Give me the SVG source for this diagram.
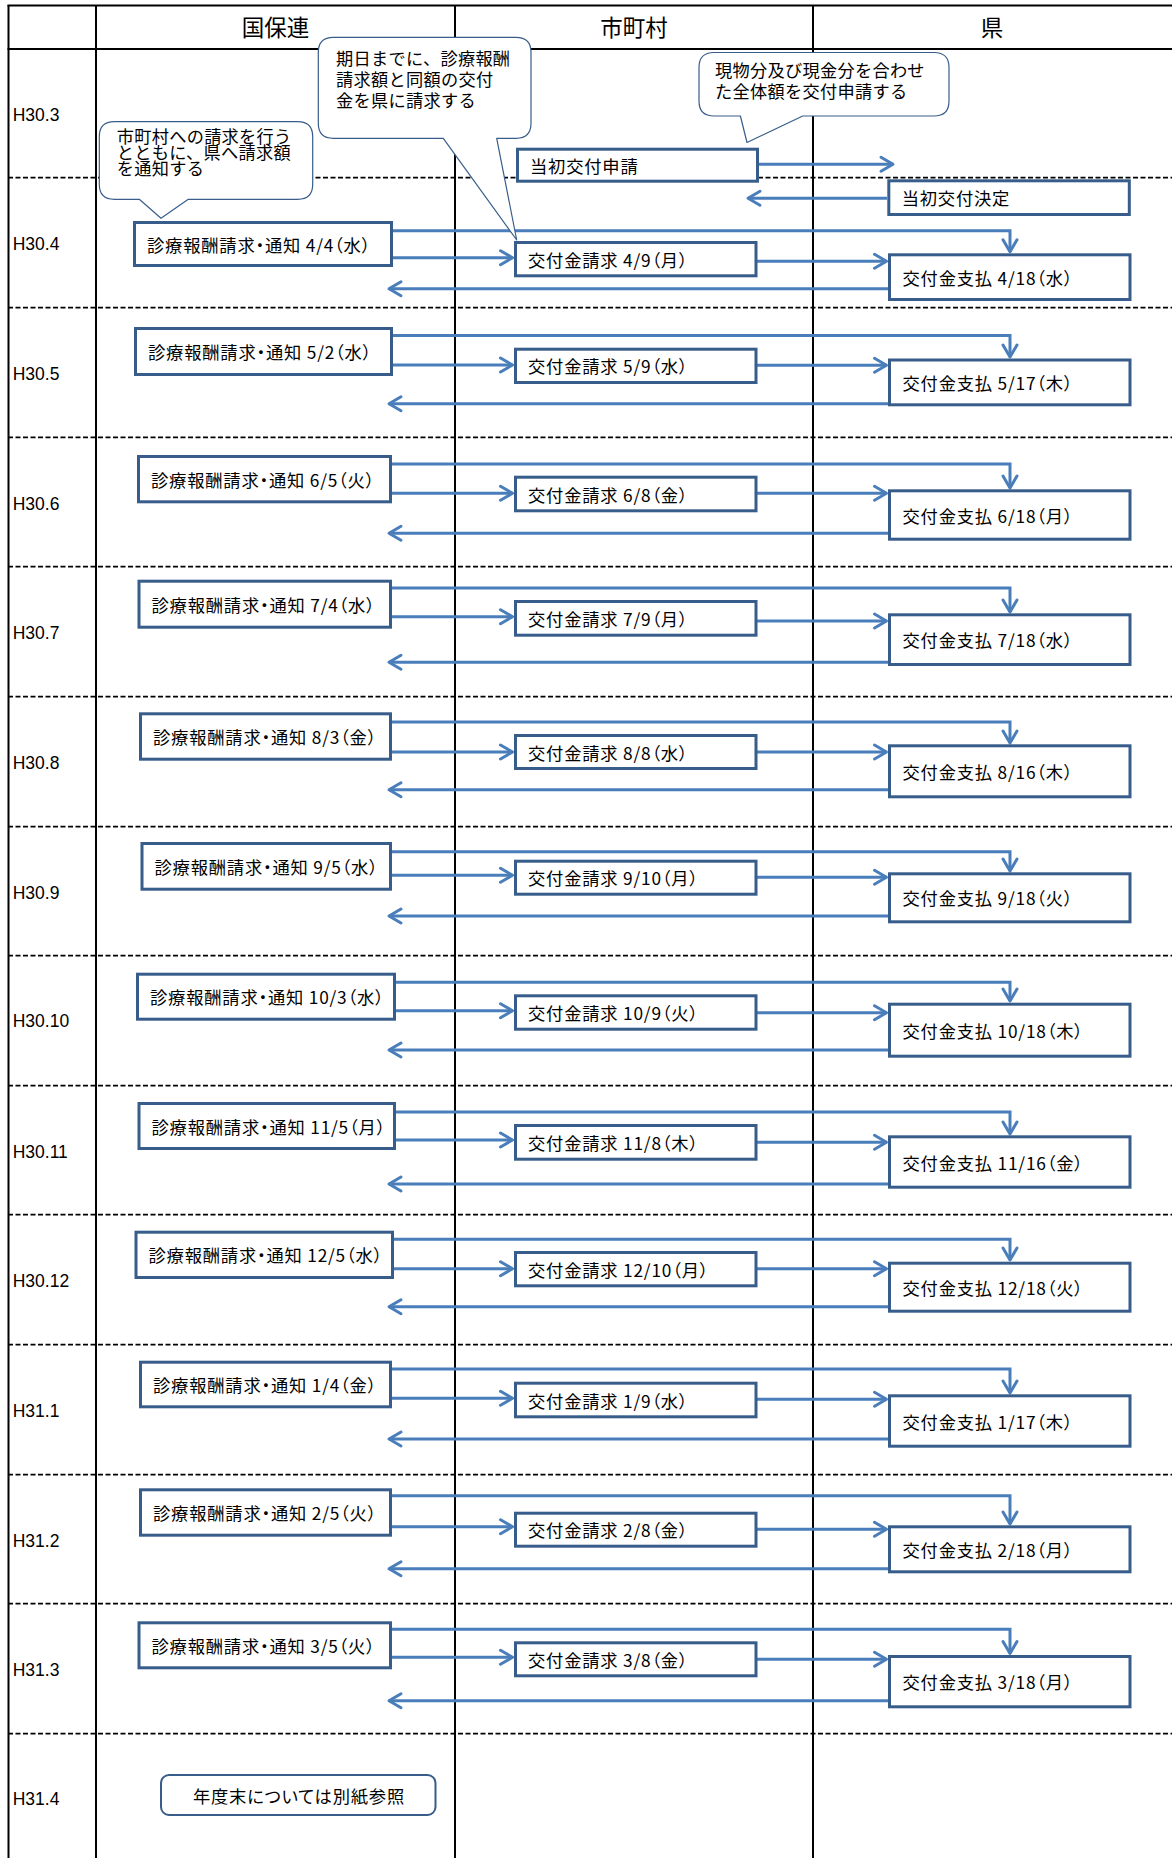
<svg xmlns="http://www.w3.org/2000/svg" width="1172" height="1858" viewBox="0 0 1172 1858">
<style>
.bg{fill:#fff}
.gl{stroke:#000;stroke-width:2;fill:none}
.dl{stroke:#000;stroke-width:1.7;stroke-dasharray:5 2.5;fill:none}
.hd{font-family:"Noto Sans CJK JP","Noto Sans CJK SC",sans-serif;font-size:22.5px;fill:#000;text-anchor:middle;dominant-baseline:central}
.lb{font-family:"Liberation Sans",Arial,sans-serif;font-size:17.5px;fill:#000}
.bx{fill:#fff;stroke:#385D8A;stroke-width:3}
.bt{font-family:"Noto Sans CJK JP","Noto Sans CJK SC",sans-serif;font-size:17.3px;letter-spacing:0.8px;fill:#000;dominant-baseline:central;font-feature-settings:"palt"}
.cl{fill:#fff;stroke:#385D8A;stroke-width:1.2;stroke-linejoin:round}
.ct{font-family:"Noto Sans CJK JP","Noto Sans CJK SC",sans-serif;font-size:17.2px;letter-spacing:0.3px;fill:#000}
.cn{fill:none;stroke:#4A7EBB;stroke-width:3;marker-end:url(#ah)}
.rb{fill:#fff;stroke:#385D8A;stroke-width:2}
</style>
<defs>
<marker id="ah" markerUnits="userSpaceOnUse" markerWidth="30" markerHeight="30" viewBox="-15 -15 30 30" refX="0" refY="0" orient="auto" overflow="visible">
<path d="M-12,-7 L0,0 L-12,7" fill="none" stroke="#4A7EBB" stroke-width="3" stroke-linejoin="round" stroke-linecap="round"/>
</marker>
</defs>
<rect class="bg" x="0" y="0" width="1172" height="1858"/>
<g id="grid">
<line class="gl" x1="7.5" y1="5.5" x2="1172" y2="5.5"/>
<line class="gl" x1="7.5" y1="49" x2="1172" y2="49" stroke-width="2.5"/>
<line class="gl" x1="8.5" y1="5" x2="8.5" y2="1858"/>
<line class="gl" x1="96" y1="5" x2="96" y2="1858"/>
<line class="gl" x1="455" y1="5" x2="455" y2="1858"/>
<line class="gl" x1="813" y1="5" x2="813" y2="1858"/>
<line class="dl" x1="8" y1="177.7" x2="1172" y2="177.7"/>
<line class="dl" x1="8" y1="307.7" x2="1172" y2="307.7"/>
<line class="dl" x1="8" y1="437.3" x2="1172" y2="437.3"/>
<line class="dl" x1="8" y1="566.7" x2="1172" y2="566.7"/>
<line class="dl" x1="8" y1="696.7" x2="1172" y2="696.7"/>
<line class="dl" x1="8" y1="826.7" x2="1172" y2="826.7"/>
<line class="dl" x1="8" y1="955.7" x2="1172" y2="955.7"/>
<line class="dl" x1="8" y1="1085.7" x2="1172" y2="1085.7"/>
<line class="dl" x1="8" y1="1214.7" x2="1172" y2="1214.7"/>
<line class="dl" x1="8" y1="1344.7" x2="1172" y2="1344.7"/>
<line class="dl" x1="8" y1="1474.7" x2="1172" y2="1474.7"/>
<line class="dl" x1="8" y1="1603.7" x2="1172" y2="1603.7"/>
<line class="dl" x1="8" y1="1733.7" x2="1172" y2="1733.7"/>
<text class="hd" x="275.5" y="26">国保連</text>
<text class="hd" x="634" y="26">市町村</text>
<text class="hd" x="992" y="26">県</text>
<text class="lb" x="12.7" y="121.3">H30.3</text>
<text class="lb" x="12.7" y="249.6">H30.4</text>
<text class="lb" x="12.7" y="379.6">H30.5</text>
<text class="lb" x="12.7" y="509.6">H30.6</text>
<text class="lb" x="12.7" y="638.6">H30.7</text>
<text class="lb" x="12.7" y="768.6">H30.8</text>
<text class="lb" x="12.7" y="898.6">H30.9</text>
<text class="lb" x="12.7" y="1027.3">H30.10</text>
<text class="lb" x="12.7" y="1158">H30.11</text>
<text class="lb" x="12.7" y="1287.3">H30.12</text>
<text class="lb" x="12.7" y="1417">H31.1</text>
<text class="lb" x="12.7" y="1547">H31.2</text>
<text class="lb" x="12.7" y="1676.3">H31.3</text>
<text class="lb" x="12.7" y="1804.6">H31.4</text>
</g>
<g id="connectors">
<line class="cn" x1="759" y1="164.3" x2="893" y2="164.3"/>
<line class="cn" x1="887" y1="198.3" x2="748" y2="198.3"/>
<polyline class="cn" points="392,230.7 1010,230.7 1010,251.8"/>
<line class="cn" x1="392" y1="257.7" x2="512.5" y2="257.7"/>
<line class="cn" x1="757" y1="261.3" x2="886.5" y2="261.3"/>
<line class="cn" x1="888" y1="288.8" x2="389" y2="288.8"/>
<polyline class="cn" points="392,335.5 1010,335.5 1010,357"/>
<line class="cn" x1="392" y1="365" x2="512.5" y2="365"/>
<line class="cn" x1="757" y1="365.2" x2="886.5" y2="365.2"/>
<line class="cn" x1="888" y1="403.7" x2="389" y2="403.7"/>
<polyline class="cn" points="391,464 1010,464 1010,488"/>
<line class="cn" x1="391" y1="493.3" x2="512.5" y2="493.3"/>
<line class="cn" x1="757" y1="493.3" x2="886.5" y2="493.3"/>
<line class="cn" x1="888" y1="533.3" x2="389" y2="533.3"/>
<polyline class="cn" points="391,588 1010,588 1010,612"/>
<line class="cn" x1="391" y1="616.7" x2="512.5" y2="616.7"/>
<line class="cn" x1="757" y1="621" x2="886.5" y2="621"/>
<line class="cn" x1="888" y1="662.3" x2="389" y2="662.3"/>
<polyline class="cn" points="391,722 1010,722 1010,743"/>
<line class="cn" x1="391" y1="752" x2="512.5" y2="752"/>
<line class="cn" x1="757" y1="752" x2="886.5" y2="752"/>
<line class="cn" x1="888" y1="789.7" x2="389" y2="789.7"/>
<polyline class="cn" points="391,851.7 1010,851.7 1010,871"/>
<line class="cn" x1="391" y1="875.3" x2="512.5" y2="875.3"/>
<line class="cn" x1="757" y1="877.3" x2="886.5" y2="877.3"/>
<line class="cn" x1="888" y1="916" x2="389" y2="916"/>
<polyline class="cn" points="395,982.3 1010,982.3 1010,1001"/>
<line class="cn" x1="395" y1="1010.7" x2="512.5" y2="1010.7"/>
<line class="cn" x1="757" y1="1012.7" x2="886.5" y2="1012.7"/>
<line class="cn" x1="888" y1="1050" x2="389" y2="1050"/>
<polyline class="cn" points="395,1112 1010,1112 1010,1134"/>
<line class="cn" x1="395" y1="1140" x2="512.5" y2="1140"/>
<line class="cn" x1="757" y1="1142.3" x2="886.5" y2="1142.3"/>
<line class="cn" x1="888" y1="1184" x2="389" y2="1184"/>
<polyline class="cn" points="393,1239.3 1010,1239.3 1010,1260"/>
<line class="cn" x1="393" y1="1268.7" x2="512.5" y2="1268.7"/>
<line class="cn" x1="757" y1="1268.7" x2="886.5" y2="1268.7"/>
<line class="cn" x1="888" y1="1306.7" x2="389" y2="1306.7"/>
<polyline class="cn" points="391,1369 1010,1369 1010,1393"/>
<line class="cn" x1="391" y1="1398.3" x2="512.5" y2="1398.3"/>
<line class="cn" x1="757" y1="1399.3" x2="886.5" y2="1399.3"/>
<line class="cn" x1="888" y1="1439" x2="389" y2="1439"/>
<polyline class="cn" points="391,1495.7 1010,1495.7 1010,1524"/>
<line class="cn" x1="391" y1="1526.7" x2="512.5" y2="1526.7"/>
<line class="cn" x1="757" y1="1529.3" x2="886.5" y2="1529.3"/>
<line class="cn" x1="888" y1="1568.7" x2="389" y2="1568.7"/>
<polyline class="cn" points="391,1629.3 1010,1629.3 1010,1653.5"/>
<line class="cn" x1="391" y1="1657.3" x2="512.5" y2="1657.3"/>
<line class="cn" x1="757" y1="1659.3" x2="886.5" y2="1659.3"/>
<line class="cn" x1="888" y1="1700.7" x2="389" y2="1700.7"/>
</g>
<g id="n-shinsei"><rect class="bx" x="517.5" y="149.2" width="240" height="32"/><text class="bt" x="530" y="165.2">当初交付申請</text></g>
<g id="n-kettei"><rect class="bx" x="888.8" y="180.8" width="240.5" height="33.7"/><text class="bt" x="901.7" y="197.6">当初交付決定</text></g>
<g id="n-r4a"><rect class="bx" x="134.5" y="222.5" width="257" height="43"/><text class="bt" x="147" y="244">診療報酬請求・通知 4/4（水）</text></g>
<g id="n-r4b"><rect class="bx" x="515.5" y="242.5" width="240.5" height="33.3"/><text class="bt" x="528" y="259.2">交付金請求 4/9（月）</text></g>
<g id="n-r4c"><rect class="bx" x="889.5" y="254.8" width="240.5" height="44.7"/><text class="bt" x="902.5" y="277.2">交付金支払 4/18（水）</text></g>
<g id="n-r5a"><rect class="bx" x="135.5" y="328.5" width="256" height="46"/><text class="bt" x="148" y="351.5">診療報酬請求・通知 5/2（水）</text></g>
<g id="n-r5b"><rect class="bx" x="515.5" y="349.2" width="240.5" height="33.3"/><text class="bt" x="528" y="365.9">交付金請求 5/9（水）</text></g>
<g id="n-r5c"><rect class="bx" x="889.5" y="360" width="240.5" height="44.8"/><text class="bt" x="902.5" y="382.4">交付金支払 5/17（木）</text></g>
<g id="n-r6a"><rect class="bx" x="138.5" y="456.5" width="252" height="45.3"/><text class="bt" x="151" y="479.2">診療報酬請求・通知 6/5（火）</text></g>
<g id="n-r6b"><rect class="bx" x="515.5" y="477.2" width="240.5" height="33.6"/><text class="bt" x="528" y="494">交付金請求 6/8（金）</text></g>
<g id="n-r6c"><rect class="bx" x="889.5" y="490.8" width="240.5" height="48.4"/><text class="bt" x="902.5" y="515">交付金支払 6/18（月）</text></g>
<g id="n-r7a"><rect class="bx" x="139" y="581.2" width="251.5" height="46"/><text class="bt" x="151.5" y="604.2">診療報酬請求・通知 7/4（水）</text></g>
<g id="n-r7b"><rect class="bx" x="515.5" y="601.5" width="240.5" height="33.7"/><text class="bt" x="528" y="618.4">交付金請求 7/9（月）</text></g>
<g id="n-r7c"><rect class="bx" x="889.5" y="614.8" width="240.5" height="49.7"/><text class="bt" x="902.5" y="639.7">交付金支払 7/18（水）</text></g>
<g id="n-r8a"><rect class="bx" x="140.5" y="713.8" width="250" height="45.4"/><text class="bt" x="153" y="736.5">診療報酬請求・通知 8/3（金）</text></g>
<g id="n-r8b"><rect class="bx" x="515.5" y="735.5" width="240.5" height="33"/><text class="bt" x="528" y="752">交付金請求 8/8（水）</text></g>
<g id="n-r8c"><rect class="bx" x="889.5" y="745.8" width="240.5" height="51"/><text class="bt" x="902.5" y="771.3">交付金支払 8/16（木）</text></g>
<g id="n-r9a"><rect class="bx" x="142" y="843.5" width="248.5" height="45.7"/><text class="bt" x="154.5" y="866.4">診療報酬請求・通知 9/5（水）</text></g>
<g id="n-r9b"><rect class="bx" x="515.5" y="861.2" width="240.5" height="33"/><text class="bt" x="528" y="877.7">交付金請求 9/10（月）</text></g>
<g id="n-r9c"><rect class="bx" x="889.5" y="873.8" width="240.5" height="48"/><text class="bt" x="902.5" y="897.8">交付金支払 9/18（火）</text></g>
<g id="n-r10a"><rect class="bx" x="137.5" y="974.2" width="257" height="45"/><text class="bt" x="150" y="996.7">診療報酬請求・通知 10/3（水）</text></g>
<g id="n-r10b"><rect class="bx" x="515.5" y="995.8" width="240.5" height="33.4"/><text class="bt" x="528" y="1012.5">交付金請求 10/9（火）</text></g>
<g id="n-r10c"><rect class="bx" x="889.5" y="1004.2" width="240.5" height="52"/><text class="bt" x="902.5" y="1030.2">交付金支払 10/18（木）</text></g>
<g id="n-r11a"><rect class="bx" x="139" y="1103.5" width="255.5" height="45"/><text class="bt" x="151.5" y="1126">診療報酬請求・通知 11/5（月）</text></g>
<g id="n-r11b"><rect class="bx" x="515.5" y="1125.5" width="240.5" height="33.7"/><text class="bt" x="528" y="1142.3">交付金請求 11/8（木）</text></g>
<g id="n-r11c"><rect class="bx" x="889.5" y="1136.8" width="240.5" height="50.4"/><text class="bt" x="902.5" y="1162">交付金支払 11/16（金）</text></g>
<g id="n-r12a"><rect class="bx" x="136" y="1232.2" width="256.5" height="45.3"/><text class="bt" x="148.5" y="1254.9">診療報酬請求・通知 12/5（水）</text></g>
<g id="n-r12b"><rect class="bx" x="515.5" y="1252.5" width="240.5" height="33.3"/><text class="bt" x="528" y="1269.2">交付金請求 12/10（月）</text></g>
<g id="n-r12c"><rect class="bx" x="889.5" y="1263.2" width="240.5" height="48"/><text class="bt" x="902.5" y="1287.2">交付金支払 12/18（火）</text></g>
<g id="n-r1a"><rect class="bx" x="140.5" y="1362.2" width="250" height="44.6"/><text class="bt" x="153" y="1384.5">診療報酬請求・通知 1/4（金）</text></g>
<g id="n-r1b"><rect class="bx" x="515.5" y="1383.2" width="240.5" height="33.6"/><text class="bt" x="528" y="1400">交付金請求 1/9（水）</text></g>
<g id="n-r1c"><rect class="bx" x="889.5" y="1395.8" width="240.5" height="50.4"/><text class="bt" x="902.5" y="1421">交付金支払 1/17（木）</text></g>
<g id="n-r2a"><rect class="bx" x="140.5" y="1489.8" width="250" height="45.4"/><text class="bt" x="153" y="1512.5">診療報酬請求・通知 2/5（火）</text></g>
<g id="n-r2b"><rect class="bx" x="515.5" y="1513.2" width="240.5" height="33"/><text class="bt" x="528" y="1529.7">交付金請求 2/8（金）</text></g>
<g id="n-r2c"><rect class="bx" x="889.5" y="1526.8" width="240.5" height="45"/><text class="bt" x="902.5" y="1549.3">交付金支払 2/18（月）</text></g>
<g id="n-r3a"><rect class="bx" x="139" y="1622.8" width="251.5" height="45"/><text class="bt" x="151.5" y="1645.3">診療報酬請求・通知 3/5（火）</text></g>
<g id="n-r3b"><rect class="bx" x="515.5" y="1642.8" width="240.5" height="33"/><text class="bt" x="528" y="1659.3">交付金請求 3/8（金）</text></g>
<g id="n-r3c"><rect class="bx" x="889.5" y="1656.5" width="240.5" height="50.3"/><text class="bt" x="902.5" y="1681.7">交付金支払 3/18（月）</text></g>
<g id="n-nendomatsu"><rect class="rb" x="161" y="1775" width="274.5" height="40" rx="8"/><text class="bt" x="299" y="1795" text-anchor="middle">年度末については別紙参照</text></g>
<g id="callout-1"><path class="cl" d="M114.3,121.7 H297.7 Q312.7,121.7 312.7,136.7 V184.3 Q312.7,199.3 297.7,199.3 H188.3 L161,218.3 L139.3,199.3 H114.3 Q99.3,199.3 99.3,184.3 V136.7 Q99.3,121.7 114.3,121.7 Z"/>
<text class="ct" x="116.7" y="142.5">市町村への請求を行う</text><text class="ct" x="116.7" y="159">とともに、県へ請求額</text><text class="ct" x="116.7" y="175">を通知する</text></g>
<g id="callout-2"><path class="cl" d="M333.3,37.3 H516 Q531,37.3 531,52.3 V123.3 Q531,138.3 516,138.3 H496.7 L516.7,240 L443.3,138.3 H333.3 Q318.3,138.3 318.3,123.3 V52.3 Q318.3,37.3 333.3,37.3 Z"/>
<text class="ct" x="336" y="64.5">期日までに、診療報酬</text><text class="ct" x="336" y="85.5">請求額と同額の交付</text><text class="ct" x="336" y="107">金を県に請求する</text></g>
<g id="callout-3"><path class="cl" d="M714,52.5 H934 Q949,52.5 949,67.5 V101 Q949,116 934,116 H802.7 L747,142.5 L740.4,116 H714 Q699,116 699,101 V67.5 Q699,52.5 714,52.5 Z"/>
<text class="ct" x="715" y="76.5">現物分及び現金分を合わせ</text><text class="ct" x="715" y="98">た全体額を交付申請する</text></g>
</svg>
